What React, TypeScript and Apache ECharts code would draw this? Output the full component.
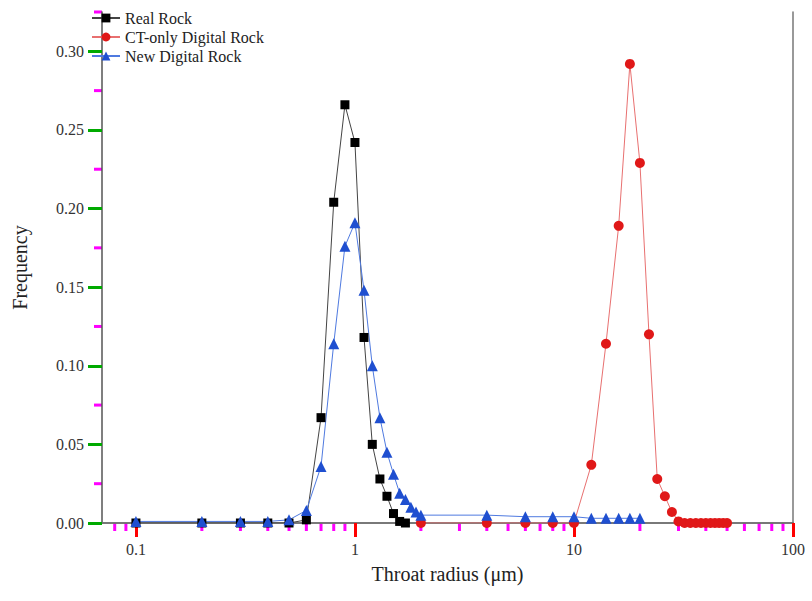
import React, { useEffect, useRef } from "react";
import * as echarts from "echarts";

const realX = [0.1, 0.2, 0.3, 0.4, 0.5, 0.6, 0.7, 0.8, 0.9, 1.0, 1.1, 1.2, 1.3, 1.4, 1.5, 1.6, 1.7];
const realY = [0, 0, 0, 0, 0, 0.002, 0.067, 0.204, 0.266, 0.242, 0.118, 0.05, 0.028, 0.017, 0.006, 0.001, 0];

const ctX = [2, 4, 6, 8, 10, 12, 14, 16, 18, 20, 22, 24, 26, 28, 30, 32, 34, 36, 38, 40, 42, 44, 46, 48, 50];
const ctY = [0, 0, 0, 0, 0, 0.037, 0.114, 0.189, 0.292, 0.229, 0.12, 0.028, 0.017, 0.007, 0.001, 0, 0, 0, 0, 0, 0, 0, 0, 0, 0];

const newX = [0.1, 0.2, 0.3, 0.4, 0.5, 0.6, 0.7, 0.8, 0.9, 1.0, 1.1, 1.2, 1.3, 1.4, 1.5, 1.6, 1.7, 1.8, 1.9, 2.0, 4, 6, 8, 10, 12, 14, 16, 18, 20];
const newY = [0.001, 0.001, 0.001, 0.001, 0.002, 0.008, 0.036, 0.114, 0.176, 0.191, 0.148, 0.1, 0.067, 0.045, 0.031, 0.019, 0.015, 0.01, 0.007, 0.005, 0.005, 0.004, 0.004, 0.004, 0.003, 0.003, 0.003, 0.003, 0.003];

const xMinorTicks = [0.08, 0.09, 0.2, 0.3, 0.4, 0.5, 0.6, 0.7, 0.8, 0.9, 2, 3, 4, 5, 6, 7, 8, 9, 20, 30, 40, 50, 60, 70, 80, 90];
const yMinorTicks = [0.025, 0.075, 0.125, 0.175, 0.225, 0.275, 0.325];

const seriesNames = ["Real Rock", "CT-only Digital Rock", "New Digital Rock"];

const FONT = "Liberation Serif";

function zip(xs: number[], ys: number[]) {
  return xs.map((x, i) => [x, ys[i]]);
}

export default function App() {
  const ref = useRef<HTMLDivElement>(null);
  useEffect(() => {
    if (!ref.current) return;
    const chart = echarts.init(ref.current, undefined, { renderer: "svg" });
    chart.setOption({
      animation: false,
      grid: { left: 102, right: 19, top: 12, bottom: 78 },
      legend: {
        orient: "vertical",
        left: 86,
        top: 5,
        itemWidth: 28,
        itemHeight: 11,
        itemGap: 3,
        textStyle: { fontFamily: FONT, fontSize: 16, color: "#222" },
        data: seriesNames,
      },
      xAxis: [
        {
          type: "log",
          min: 0.07,
          max: 100,
          name: "Throat radius (μm)",
          nameLocation: "middle",
          nameGap: 41,
          nameTextStyle: { fontFamily: FONT, fontSize: 20, color: "#222" },
          axisLine: { show: true, lineStyle: { color: "#555", width: 1.5 } },
          axisTick: { show: true, length: 14, lineStyle: { color: "#f00", width: 3 } },
          axisLabel: { margin: 18, fontFamily: FONT, fontSize: 16, color: "#333", showMinLabel: false },
          splitLine: { show: false },
        },
        {
          type: "value",
          position: "top",
          min: 0,
          max: 1,
          axisLine: { show: true, lineStyle: { color: "#777", width: 1.5 } },
          axisTick: { show: false },
          axisLabel: { show: false },
          splitLine: { show: false },
        },
      ],
      yAxis: [
        {
          type: "value",
          min: 0,
          max: 0.325,
          interval: 0.05,
          name: "Frequency",
          nameLocation: "middle",
          nameGap: 72,
          nameTextStyle: { fontFamily: FONT, fontSize: 20, color: "#222" },
          axisLine: { show: true, lineStyle: { color: "#555", width: 1.5 } },
          axisTick: { show: true, length: 14, lineStyle: { color: "#0a0", width: 3 } },
          axisLabel: {
            margin: 18,
            fontFamily: FONT,
            fontSize: 16,
            color: "#333",
            showMaxLabel: false,
            formatter: (v: number) => v.toFixed(2),
          },
          splitLine: { show: false },
        },
        {
          type: "value",
          position: "right",
          min: 0,
          max: 1,
          axisLine: { show: true, lineStyle: { color: "#777", width: 1.5 } },
          axisTick: { show: false },
          axisLabel: { show: false },
          splitLine: { show: false },
        },
      ],
      series: [
        {
          name: seriesNames[0],
          type: "line",
          data: zip(realX, realY),
          symbol: "rect",
          symbolSize: 9,
          itemStyle: { color: "#000" },
          lineStyle: { color: "#444", width: 1 },
        },
        {
          name: seriesNames[1],
          type: "line",
          data: zip(ctX, ctY),
          symbol: "circle",
          symbolSize: 10,
          itemStyle: { color: "#e01818" },
          lineStyle: { color: "#e87070", width: 1 },
        },
        {
          name: seriesNames[2],
          type: "line",
          data: zip(newX, newY),
          symbol: "triangle",
          symbolSize: 11,
          itemStyle: { color: "#1f4fd0" },
          lineStyle: { color: "#4f7ae0", width: 1 },
        },
      ],
    });

    const y0 = Number(chart.convertToPixel({ yAxisIndex: 0 }, 0));
    const x0 = Number(chart.convertToPixel({ xAxisIndex: 0 }, 0.07));
    const elements: any[] = [];
    xMinorTicks.forEach((v) => {
      const x = Number(chart.convertToPixel({ xAxisIndex: 0 }, v));
      elements.push({
        type: "line",
        shape: { x1: x, y1: y0, x2: x, y2: y0 + 8 },
        style: { stroke: "#f0f", lineWidth: 3 },
        silent: true,
      });
    });
    yMinorTicks.forEach((v) => {
      const y = Number(chart.convertToPixel({ yAxisIndex: 0 }, v));
      elements.push({
        type: "line",
        shape: { x1: x0 - 8, y1: y, x2: x0, y2: y },
        style: { stroke: "#f0f", lineWidth: 3 },
        silent: true,
      });
    });
    chart.setOption({ graphic: { elements } });

    return () => chart.dispose();
  }, []);
  return (
    <div style={{ position: "fixed", left: 0, top: 0, width: 812, height: 601, background: "#fff" }}>
      <div ref={ref} style={{ width: 812, height: 601 }} />
    </div>
  );
}
